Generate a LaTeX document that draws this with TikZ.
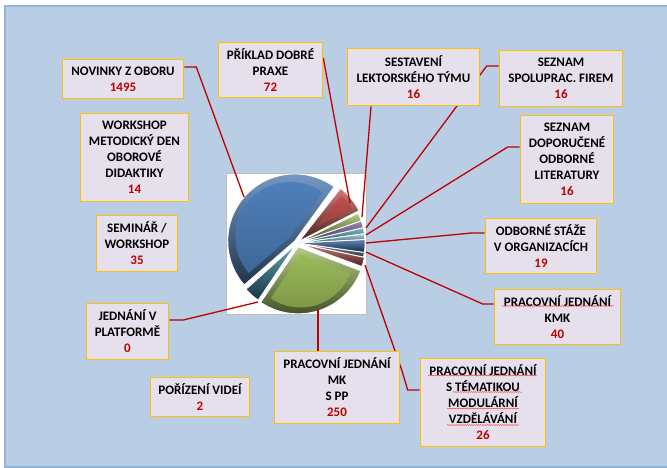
\documentclass[tikz,border=0pt]{standalone}
\usepackage{fontspec}
\newfontfamily\carl{Carlito}[BoldFont={* Bold}]
\usetikzlibrary{decorations.pathmorphing}
\definecolor{bgblue}{HTML}{B9CDE5}
\definecolor{frameblue}{HTML}{95B3D7}
\definecolor{boxfill}{HTML}{E6E0EC}
\definecolor{boxline}{HTML}{FFC000}
\definecolor{numred}{HTML}{C00000}
\definecolor{linered}{HTML}{C00000}
\definecolor{pblue}{HTML}{4F81BD}
\definecolor{pred}{HTML}{C0504D}
\definecolor{pgreen}{HTML}{9BBB59}
\definecolor{ppurple}{HTML}{8064A2}
\definecolor{paqua}{HTML}{4BACC6}
\definecolor{pdblue}{HTML}{2C5F9E}
\definecolor{pteal}{HTML}{31859C}
\pgfdeclarelayer{back}
\pgfdeclarelayer{lines}
\pgfsetlayers{back,lines,main}
\newcommand\numv[1]{\textcolor{numred}{#1}}
\def\pieR{67}
\newcommand\pieslice[5]{%
  \pgfmathsetmacro\pieM{(#1+#2)/2}%
  \begin{scope}[shift={(\pieM:#4)}]
    \path[top color=#3!75!white, bottom color=#3!40!black, draw=white, line width=0.8pt]
      (0,0) -- (#1:\pieR) arc[start angle=#1, end angle=#2, radius=\pieR] -- cycle;
    \ifdim #5pt>0pt
      \pgfmathsetmacro\pieS{#5/sin((#2-#1)/2)}%
      \pgfmathsetmacro\pieRi{\pieR-#5-\pieS}%
      \path[top color=#3, bottom color=#3!80!black, shift={(\pieM:\pieS)}]
        (0,0) -- (#1:\pieRi) arc[start angle=#1, end angle=#2, radius=\pieRi] -- cycle;
    \fi
  \end{scope}}
\tikzset{
  box/.style={draw=boxline, line width=1.6pt, fill=boxfill, align=center, inner sep=0pt,
    font=\carl\bfseries\fontsize{13}{16}\selectfont},
  conn/.style={draw=linered, line width=1.3pt},
  squig/.style={draw=red!85!white, line width=0.35pt, decorate,
    decoration={snake, amplitude=0.5pt, segment length=2.2pt}}
}
\begin{document}
\begin{tikzpicture}[x=1pt, y=-1pt]
\useasboundingbox (0,0) rectangle (667,468);
\begin{pgfonlayer}{back}
  \fill[white] (0,0) rectangle (667,468);
  \path[fill=bgblue, draw=frameblue, line width=2pt] (5,6) rectangle (670,467);
  \path[fill=white, draw=gray!50, line width=0.6pt] (226,173) rectangle (366,314);
  \begin{scope}[shift={(297,243)}, x=1pt, y=1pt]
    \pieslice{-12}{-8}{gray!40!pblue}{1}{0}
    \pieslice{-20}{-12}{pred}{2}{0}
    \pieslice{-8}{3}{pdblue}{1}{0}
    \pieslice{3}{8}{paqua!60!white}{1}{0}
    \pieslice{8}{13}{paqua}{1}{0}
    \pieslice{13}{19}{ppurple}{1}{0}
    \pieslice{19}{26}{pgreen}{1}{0}
    \pieslice{27}{52}{pred}{3}{5}
    \pieslice{222}{236}{pteal}{2}{0}
    \pieslice{236}{339}{pgreen}{4}{6}
    \pieslice{54}{221}{pblue}{3}{6}
  \end{scope}
\end{pgfonlayer}

% boxes
\node[box, minimum width=121pt, minimum height=39pt] (nov) at (123,79) {NOVINKY Z OBORU\\\numv{1495}};
\node[box, minimum width=104pt, minimum height=55pt] (pri) at (270.5,70) {PŘÍKLAD DOBRÉ\\PRAXE\\\numv{72}};
\node[box, minimum width=132pt, minimum height=57pt] (ses) at (413.5,77) {SESTAVENÍ\\LEKTORSKÉHO TÝMU\\\numv{16}};
\node[box, minimum width=123pt, minimum height=56pt] (spo) at (561,78.5) {SEZNAM\\SPOLUPRAC. FIREM\\\numv{16}};
\node[box, minimum width=93pt, minimum height=88pt] (dop) at (567,159.5) {SEZNAM\\DOPORUČENÉ\\ODBORNÉ\\LITERATURY\\\numv{16}};
\node[box, minimum width=111pt, minimum height=55pt] (sta) at (541,246) {ODBORNÉ STÁŽE\\V ORGANIZACÍCH\\\numv{19}};
\node[box, minimum width=126pt, minimum height=55pt] (kmk) at (557.5,317) {PRACOVNÍ JEDNÁNÍ\\KMK\\\numv{40}};
\node[box, minimum width=125pt, minimum height=88pt] (tem) at (483,402.5) {PRACOVNÍ JEDNÁNÍ\\S TÉMATIKOU\\MODULÁRNÍ\\VZDĚLÁVÁNÍ\\\numv{26}};
\node[box, minimum width=125pt, minimum height=72pt] (mk) at (337,387.5) {PRACOVNÍ JEDNÁNÍ\\MK\\S PP\\\numv{250}};
\node[box, minimum width=99pt, minimum height=39pt] (vid) at (200,397) {POŘÍZENÍ VIDEÍ\\\numv{2}};
\node[box, minimum width=82pt, minimum height=56pt] (pla) at (127.5,331.5) {JEDNÁNÍ V\\PLATFORMĚ\\\numv{0}};
\node[box, minimum width=81pt, minimum height=56pt] (sem) at (137,243.5) {SEMINÁŘ /\\WORKSHOP\\\numv{35}};
\node[box, minimum width=108pt, minimum height=88pt] (wor) at (134.5,157.5) {WORKSHOP\\METODICKÝ DEN\\OBOROVÉ\\DIDAKTIKY\\\numv{14}};

% connector ends on the pie
\coordinate (pnov) at (244,197);
\coordinate (ppri) at (350,203);
\coordinate (pses) at (362,217);
\coordinate (pspo) at (366,228);
\coordinate (pdop) at (366,235);
\coordinate (psta) at (366,243);
\coordinate (pkmk) at (366,252);
\coordinate (ptem) at (365,265);
\coordinate (pmk) at (318,310);
\coordinate (ppla) at (258,302);

\begin{pgfonlayer}{lines}
  \draw[conn] ([yshift=12pt]nov.east) -- ++(12,0) -- (pnov);
  \draw[conn] ([yshift=12pt]pri.east) -- (ppri);
  \draw[conn] ([xshift=-42.5pt]ses.south) -- (pses);
  \draw[conn] ([yshift=12.5pt]spo.west) -- ++(-12,0) -- (pspo);
  \draw[conn] ([yshift=12.5pt]dop.west) -- ++(-12,0) -- (pdop);
  \draw[conn] ([yshift=13pt]sta.west) -- ++(-13,0) -- (psta);
  \draw[conn] ([yshift=13pt]kmk.west) -- ++(-11,0) -- (pkmk);
  \draw[conn] ([yshift=12.5pt]tem.west) -- ++(-12,0) -- ++(-6,-20) -- (ptem);
  \draw[conn] ([xshift=-19pt]mk.north) -- (pmk);
  \draw[conn] ([yshift=11.5pt]pla.east) -- ++(14,0) -- (ppla);
\end{pgfonlayer}

% spelling marks
\draw[squig] (428,375.5) -- (537,375.5);
\draw[squig] (453,392) -- (522,392);
\draw[squig] (447,408.5) -- (519,408.5);
\draw[squig] (447,425) -- (519,425);
\draw[squig] (502,306) -- (614,306);
\end{tikzpicture}
\end{document}
